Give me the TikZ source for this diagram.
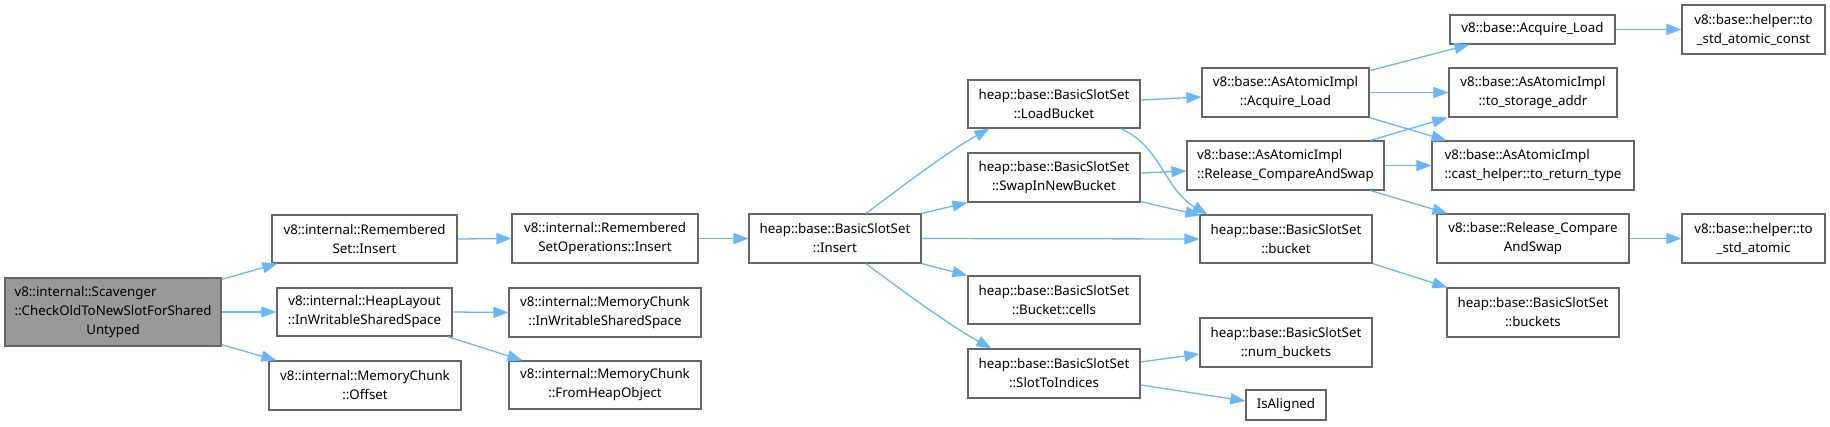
\documentclass[tikz,border=0pt]{standalone}
\usepackage{fontspec}
\setmainfont{Noto Sans}
\usetikzlibrary{arrows.meta}
\definecolor{edgec}{HTML}{63B8FF}
\definecolor{boxc}{HTML}{666666}
\definecolor{rootc}{HTML}{999999}
\newlength\lenA
\newcommand\leftfirst[2]{\settowidth\lenA{#2}\makebox[\lenA][l]{#1}\\#2}
\begin{document}
\begin{tikzpicture}[x=1pt,y=-1pt,
  box/.style={draw=boxc, line width=1.2pt, fill=white, align=center, inner sep=0pt,
    font=\fontsize{13.3}{19}\selectfont, text=black},
  edge/.style={draw=edgec, line width=1.3pt, -{Triangle[length=15pt,width=11pt]}}
]
\useasboundingbox (0,0) rectangle (1830,426);
% column 1
\node[box, fill=rootc, minimum width=216pt, minimum height=68pt] (scav) at (113,312)
  {\leftfirst{v8::internal::Scavenger}{::CheckOldToNewSlotForShared}\\Untyped};
% column 2
\node[box, minimum width=185pt, minimum height=48pt] (rsi) at (364.5,239) {v8::internal::Remembered\\Set::Insert};
\node[box, minimum width=175pt, minimum height=48pt] (hl) at (364.5,312) {v8::internal::HeapLayout\\::InWritableSharedSpace};
\node[box, minimum width=192pt, minimum height=49pt] (mco) at (365,385.5) {v8::internal::MemoryChunk\\::Offset};
% column 3
\node[box, minimum width=186pt, minimum height=49pt] (rsoi) at (605,238.5) {v8::internal::Remembered\\SetOperations::Insert};
\node[box, minimum width=192pt, minimum height=49pt] (mciw) at (605,312.5) {v8::internal::MemoryChunk\\::InWritableSharedSpace};
\node[box, minimum width=192pt, minimum height=48pt] (mcfh) at (605,385) {v8::internal::MemoryChunk\\::FromHeapObject};
% column 4
\node[box, minimum width=172pt, minimum height=49pt] (bssi) at (835,238.5) {heap::base::BasicSlotSet\\::Insert};
% column 5
\node[box, minimum width=172pt, minimum height=48pt] (lb) at (1054,104) {heap::base::BasicSlotSet\\::LoadBucket};
\node[box, minimum width=172pt, minimum height=49pt] (sw) at (1054,177.5) {heap::base::BasicSlotSet\\::SwapInNewBucket};
\node[box, minimum width=172pt, minimum height=48pt] (cells) at (1054,300) {heap::base::BasicSlotSet\\::Bucket::cells};
\node[box, minimum width=172pt, minimum height=49pt] (sti) at (1054,373.5) {heap::base::BasicSlotSet\\::SlotToIndices};
% column 6
\node[box, minimum width=167pt, minimum height=49pt] (aal) at (1285.5,92.5) {v8::base::AsAtomicImpl\\::Acquire\_Load};
\node[box, minimum width=197pt, minimum height=49pt] (arcas) at (1285.5,165.5)
  {\leftfirst{v8::base::AsAtomicImpl}{::Release\_CompareAndSwap}};
\node[box, minimum width=172pt, minimum height=48pt] (bucket) at (1286,239) {heap::base::BasicSlotSet\\::bucket};
\node[box, minimum width=172pt, minimum height=49pt] (nb) at (1286,342.5) {heap::base::BasicSlotSet\\::num\_buckets};
\node[box, minimum width=80pt, minimum height=30pt] (isal) at (1286,405) {IsAligned};
% column 7
\node[box, minimum width=165pt, minimum height=29pt] (acl) at (1532.5,29.5) {v8::base::Acquire\_Load};
\node[box, minimum width=168pt, minimum height=49pt] (tsa) at (1533,92.5) {v8::base::AsAtomicImpl\\::to\_storage\_addr};
\node[box, minimum width=202pt, minimum height=49pt] (crt) at (1533,165.5)
  {\leftfirst{v8::base::AsAtomicImpl}{::cast\_helper::to\_return\_type}};
\node[box, minimum width=192pt, minimum height=49pt] (rcas) at (1533,238.5) {v8::base::Release\_Compare\\AndSwap};
\node[box, minimum width=172pt, minimum height=49pt] (bks) at (1533,312.5) {heap::base::BasicSlotSet\\::buckets};
% column 8
\node[box, minimum width=143pt, minimum height=49pt] (tsac) at (1753.5,29.5) {v8::base::helper::to\\\_std\_atomic\_const};
\node[box, minimum width=143pt, minimum height=49pt] (tsa2) at (1753.5,238.5) {v8::base::helper::to\\\_std\_atomic};
% edges
\draw[edge] ([shift={(0,2)}]scav.north east) -- ([shift={(6,0)}]rsi.south west);
\draw[edge] (scav.east) -- (hl.west);
\draw[edge] ([shift={(0,-2)}]scav.south east) -- ([shift={(8,0)}]mco.north west);
\draw[edge] (rsi.east) -- (rsoi.west);
\draw[edge] (hl.east) -- (mciw.west);
\draw[edge] ([shift={(-5,0)}]hl.south east) -- ([shift={(14,0)}]mcfh.north west);
\draw[edge] (rsoi.east) -- (bssi.west);
\draw[edge] ([shift={(31,0)}]bssi.north) .. controls +(40,-30) and +(-40,22) .. ([shift={(22,0)}]lb.south west);
\draw[edge] (bssi.north east) -- (sw.south west);
\draw[edge] (bssi.east) -- (bucket.west);
\draw[edge] (bssi.south east) -- (cells.north west);
\draw[edge] ([shift={(31,0)}]bssi.south) .. controls +(40,30) and +(-40,-22) .. ([shift={(24,0)}]sti.north west);
\draw[edge] ([shift={(0,-4)}]lb.east) -- ([shift={(0,4.5)}]aal.west);
\draw[edge] ([shift={(-20,0)}]lb.south east) .. controls +(40,17) and +(-43,-25) .. ([shift={(8,0)}]bucket.north west);
\draw[edge] ([shift={(0,-4.5)}]sw.east) -- ([shift={(0,5.5)}]arcas.west);
\draw[edge] ([shift={(0,-1)}]sw.south east) -- ([shift={(1,1)}]bucket.north west);
\draw[edge] ([shift={(1,3)}]aal.north east) -- ([shift={(20,0)}]acl.south west);
\draw[edge] (aal.east) -- (tsa.west);
\draw[edge] (aal.south east) -- ([shift={(15,0)}]crt.north west);
\draw[edge] ([shift={(-14,0)}]arcas.north east) -- ([shift={(-1,0)}]tsa.south west);
\draw[edge] (arcas.east) -- (crt.west);
\draw[edge] ([shift={(-14,0)}]arcas.south east) -- ([shift={(11,0)}]rcas.north west);
\draw[edge] (acl.east) -- (tsac.west);
\draw[edge] (rcas.east) -- (tsa2.west);
\draw[edge] (bucket.south east) -- ([shift={(1,0)}]bks.north west);
\draw[edge] ([shift={(0,-11.5)}]sti.east) -- ([shift={(0,11.5)}]nb.west);
\draw[edge] ([shift={(0,11.5)}]sti.east) -- ([shift={(0,-4)}]isal.west);
\end{tikzpicture}
\end{document}
